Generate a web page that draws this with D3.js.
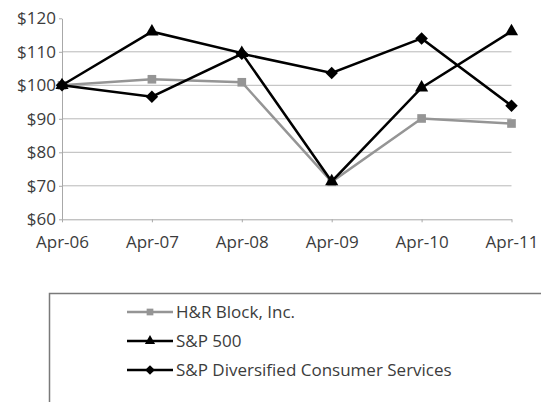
<!DOCTYPE html>
<html><head><meta charset="utf-8">
<script src="https://cdn.jsdelivr.net/npm/d3@7"></script>
<style>body{margin:0;background:#fff;} svg{display:block;}</style>
</head><body>
<script>
const categories = ["Apr-06","Apr-07","Apr-08","Apr-09","Apr-10","Apr-11"];
const hrBlock = [100, 101.8, 100.9, 71.2, 90.1, 88.6];
const sp500 = [100, 116.0, 109.6, 71.3, 99.3, 116.1];
const spDiv = [100, 96.6, 109.4, 103.7, 114.0, 93.9];
const yTicks = [60,70,80,90,100,110,120];
const seriesNames = ["H&R Block, Inc.","S&P 500","S&P Diversified Consumer Services"];

const W=541,H=402;
const svg=d3.select("body").append("svg").attr("width",W).attr("height",H);
const font="'Open Sans', sans-serif";
const fs="17px";
const txt="#3c3c3c";
const x=d3.scalePoint().domain(categories).range([62,511.5]);
const y=d3.scaleLinear().domain([60,120]).range([219.3,18.3]);

// gridlines
svg.append("g").selectAll("line").data(yTicks.filter(t=>t>60 && t<120)).join("line")
  .attr("x1",62).attr("x2",511.5).attr("y1",d=>y(d)).attr("y2",d=>y(d))
  .attr("stroke","#b8b8b8").attr("stroke-width",1);

const ya=svg.append("g").attr("transform","translate(62,0)")
  .call(d3.axisLeft(y).tickValues(yTicks).tickFormat(d=>"$"+d).tickSize(3).tickSizeOuter(0).tickPadding(3));
const xa=svg.append("g").attr("transform",`translate(0,${y(60)})`)
  .call(d3.axisBottom(x).tickSize(3).tickSizeOuter(0).tickPadding(14));
[ya,xa].forEach(a=>{
  a.selectAll("path,line").attr("stroke","#a8a8a8");
  a.selectAll("text").attr("font-family",font).attr("font-size",fs).attr("fill",txt);
});

const series=[
  {name:seriesNames[0],values:hrBlock,color:"#959595",shape:"square",w:2.5},
  {name:seriesNames[1],values:sp500,color:"#000",shape:"triangle",w:2.5},
  {name:seriesNames[2],values:spDiv,color:"#000",shape:"diamond",w:2.5}
];
const sym={square:d3.symbolSquare,triangle:d3.symbolTriangle,diamond:d3.symbolDiamond2};
const size={square:75,triangle:75,diamond:100};
const line=d3.line().x((d,i)=>x(categories[i])).y(d=>y(d));
series.forEach(s=>{
  svg.append("path").attr("d",line(s.values)).attr("fill","none")
    .attr("stroke",s.color).attr("stroke-width",s.w).attr("stroke-linejoin","miter");
  svg.append("g").selectAll("path").data(s.values).join("path")
    .attr("transform",(d,i)=>`translate(${x(categories[i])},${y(d)})`)
    .attr("d",d3.symbol().type(sym[s.shape]).size(size[s.shape])).attr("fill",s.color);
});

// legend
svg.append("path").attr("d","M49.5,402 V293.5 H541").attr("fill","none").attr("stroke","#7a7a7a").attr("stroke-width",1.5);
const ly=[312,341,370];
series.forEach((s,i)=>{
  const g=svg.append("g").attr("transform",`translate(0,${ly[i]})`);
  g.append("line").attr("x1",127).attr("x2",173).attr("y1",0).attr("y2",0).attr("stroke",s.color).attr("stroke-width",s.w);
  g.append("path").attr("transform","translate(150,0)").attr("d",d3.symbol().type(sym[s.shape]).size(size[s.shape]*0.6)).attr("fill",s.color);
  g.append("text").attr("x",176).attr("y",6).attr("font-family",font).attr("font-size",fs).attr("fill",txt).text(s.name);
});
</script>
</body></html>
